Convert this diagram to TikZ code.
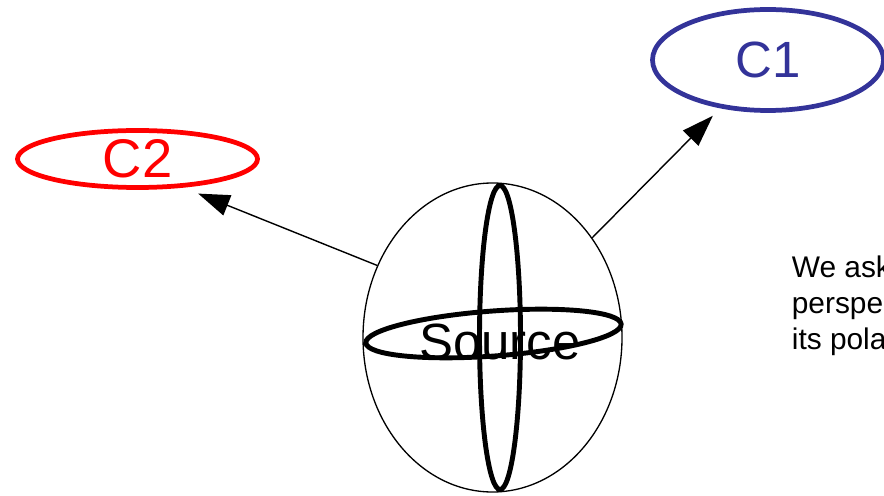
\documentclass[tikz,border=0pt]{standalone}
\usepackage{fontspec}
\setmainfont{Liberation Sans}
\usetikzlibrary{arrows.meta,shapes.geometric,calc}
\usepackage{xcolor}
\definecolor{cblue}{HTML}{333399}
\definecolor{cred}{HTML}{FF0000}

\begin{document}
\begin{tikzpicture}[>={Triangle[length=0.63cm,width=0.43cm]},
  ring/.style={draw,ellipse,inner sep=0pt,line width=2.7pt},
  arr/.style={->,line width=0.8pt},
  big/.style={font=\fontsize{29pt}{34pt}\selectfont}]
  \useasboundingbox (0,0) rectangle (17.68,9.9);
  \clip (0,0) rectangle (17.68,9.9);
  \node[draw,ellipse,inner sep=0pt,line width=0.75pt,minimum width=5.18cm,minimum height=6.18cm] (src) at (9.85,3.15) {};
  \draw[line width=2.8pt] (10.0,3.15) ellipse (0.41 and 3.04);
  \draw[line width=2.8pt,rotate around={4.2:(9.87,3.23)}] (9.87,3.23) ellipse (2.56 and 0.45);
  \node[big] (srclbl) at ([xshift=0.15cm,yshift=-0.08cm]src.center) {Source};
  \node[ring,draw=cblue,text=cblue,minimum width=4.62cm,minimum height=2.02cm,big] (c1) at (15.36,8.7) {C1};
  \node[ring,draw=cred,text=cred,minimum width=4.8cm,minimum height=1.14cm,font=\fontsize{31pt}{36pt}\selectfont] (c2) at (2.75,6.72) {C2};
  \draw[arr,shorten >=0.21cm] (src.45) -- (c1);
  \draw[arr,shorten >=0.32cm] (src.148) -- (c2.-32);
  \node[anchor=north west,inner sep=0pt,align=left,font=\fontsize{17pt}{20.5pt}\selectfont] (note) at (15.83,4.79) {We ask\\perspe\\its pola};
\end{tikzpicture}
\end{document}
